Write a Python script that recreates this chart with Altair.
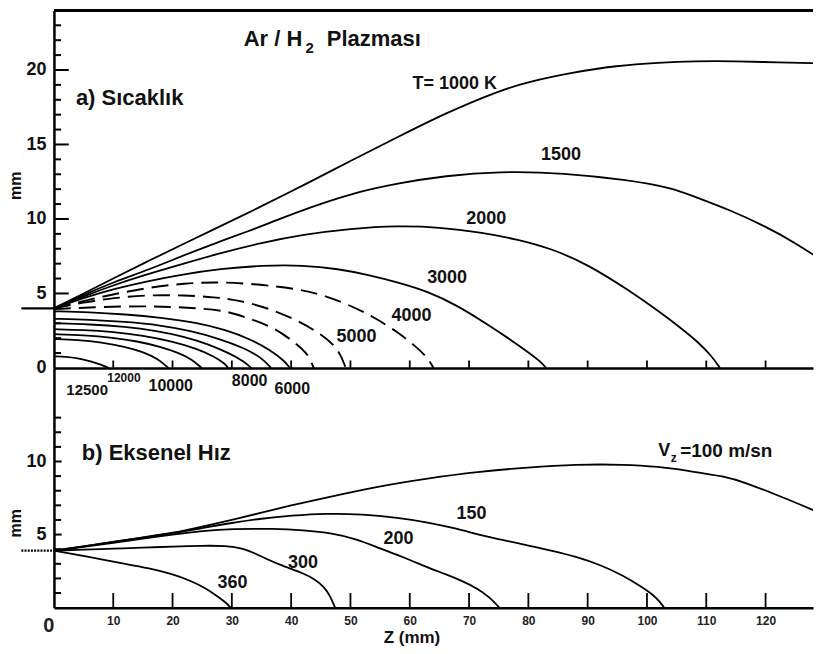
import altair as alt
import pandas as pd

FONT = "Liberation Sans"

# ---------------- panel a) temperature contours: (z mm, r mm) ----------------
t1000 = [(0, 4.0), (5, 5.0), (10, 6.0), (16, 7.2), (22, 8.35), (28, 9.5), (34, 10.65), (43, 12.45),
         (50, 13.9), (58, 15.5), (66, 17.1), (75, 18.6), (80, 19.2), (87, 19.8), (95, 20.3),
         (102, 20.5), (108, 20.6), (115, 20.6), (122, 20.5), (129, 20.45)]
t1500 = [(0, 4.0), (5, 4.9), (10, 5.75), (16, 6.6), (21.5, 7.5), (27, 8.35), (33, 9.2), (38, 10.0),
         (43, 10.75), (50, 11.7), (58, 12.4), (66, 12.9), (75, 13.2), (86, 13.1), (97, 12.6),
         (104, 12.1), (108, 11.5), (114, 10.6), (120, 9.5), (125, 8.4), (129, 7.35)]
t2000 = [(0, 4.0), (5, 4.8), (10, 5.55), (15, 6.2), (21, 6.9), (28, 7.7), (35, 8.4), (42, 8.95),
         (50, 9.35), (58, 9.55), (65, 9.45), (72, 9.1), (78, 8.65), (84, 8.0), (90, 6.95),
         (97, 5.2), (102, 3.8), (106, 2.6), (109, 1.6), (111, 0.75), (112.3, 0)]
t3000 = [(0, 4.0), (5, 4.7), (10, 5.3), (16, 5.85), (22, 6.3), (28, 6.65), (35, 6.88), (42, 6.9),
         (48, 6.65), (53, 6.25), (58, 5.75), (63, 5.15), (68, 4.2), (73, 2.95), (77, 1.9),
         (80, 1.05), (82, 0.45), (83, 0)]
t4000 = [(0, 4.0), (5, 4.5), (10, 4.95), (16, 5.4), (22, 5.68), (28, 5.78), (35, 5.6), (41, 5.3),
         (45, 4.95), (50, 4.2), (54, 3.4), (58, 2.4), (61, 1.45), (63, 0.7), (64, 0)]
t5000 = [(0, 4.0), (5, 4.4), (10, 4.7), (16, 4.9), (22, 4.88), (27, 4.75), (31, 4.55), (36, 4.05),
         (41, 3.2), (45, 2.3), (48, 1.3), (49.2, 0)]
t6000 = [(0, 3.95), (8, 4.1), (15, 4.15), (20, 4.1), (24.4, 4.0), (29, 3.85), (33, 3.3),
         (37, 2.75), (41, 1.6), (42.9, 0.9), (43.8, 0)]
t7000 = [(0, 3.8), (6, 3.75), (12, 3.6), (18, 3.38), (24, 3.05), (29, 2.55), (33, 1.95),
         (36.5, 1.2), (38.8, 0.5), (39.8, 0)]
t8000 = [(0, 3.3), (6, 3.25), (12, 3.1), (18, 2.87), (23, 2.5), (28, 1.95), (32, 1.35),
         (35, 0.7), (36.6, 0)]
t9000 = [(0, 3.0), (6, 2.93), (12, 2.77), (17, 2.52), (22, 2.1), (26, 1.6), (29.5, 1.0),
         (32, 0.45), (33.3, 0)]
t10000 = [(0, 2.6), (5, 2.55), (10, 2.42), (15, 2.18), (20, 1.78), (24, 1.3), (27, 0.78),
          (28.8, 0.3), (29.4, 0)]
t11000 = [(0, 2.27), (5, 2.2), (10, 2.03), (14, 1.8), (18, 1.42), (21, 1.02), (23.3, 0.58),
          (24.9, 0)]
t12000 = [(0, 1.94), (4, 1.88), (8, 1.72), (12, 1.43), (15, 1.08), (17.5, 0.62), (19.3, 0)]
t12500 = [(0, 0.78), (2, 0.75), (4, 0.65), (6, 0.47), (8, 0.22), (9.2, 0)]

temp_solid = {"1000": t1000, "1500": t1500, "2000": t2000, "3000": t3000, "7000": t7000,
              "8000": t8000, "9000": t9000, "10000": t10000, "11000": t11000,
              "12000": t12000, "12500": t12500}
temp_dashed = {"4000": t4000, "5000": t5000, "6000": t6000}

# ---------------- panel b) axial velocity contours ----------------
v100 = [(0, 3.9), (5, 4.2), (10, 4.5), (15, 4.8), (20, 5.1), (25, 5.55), (30, 6.0), (35, 6.5),
        (40, 7.0), (45, 7.45), (54.6, 8.3), (63, 8.85), (71.4, 9.3), (80, 9.6), (88, 9.8),
        (96, 9.8), (102, 9.65), (107, 9.35), (113, 9.0), (117, 8.5), (121, 7.85), (125, 7.2),
        (129, 6.5)]
v150 = [(0, 3.9), (5, 4.2), (10, 4.5), (15, 4.8), (20, 5.08), (25, 5.45), (30, 5.8), (35, 6.1),
        (40, 6.3), (46, 6.45), (52, 6.4), (58, 6.15), (63, 5.85), (68, 5.4), (72, 4.95),
        (76, 4.6), (80, 4.25), (84, 3.9), (88, 3.5), (92, 2.95), (96, 2.2), (99, 1.45),
        (101, 0.9), (102.3, 0.35), (102.9, 0)]
v200 = [(0, 3.9), (5, 4.15), (10, 4.42), (15, 4.72), (20, 5.0), (25, 5.25), (30, 5.4), (37, 5.4),
        (42, 5.3), (47, 5.1), (51, 4.7), (55, 4.05), (59, 3.45), (63, 2.75), (66, 2.3),
        (69, 1.8), (71.5, 1.3), (73.5, 0.7), (75.1, 0)]
v300 = [(0, 3.9), (5, 3.97), (10, 4.04), (15, 4.1), (20, 4.18), (25, 4.24), (29, 4.24),
        (32, 4.05), (34, 3.7), (36, 3.3), (38, 2.95), (40, 2.65), (42, 2.35), (44, 1.95),
        (45.5, 1.45), (46.6, 0.8), (47.4, 0)]
v360 = [(0, 3.9), (4, 3.62), (8, 3.3), (12, 3.0), (16, 2.7), (20, 2.3), (23, 1.85), (25.5, 1.35),
        (27.5, 0.8), (29, 0.35), (29.8, 0)]
velocity = {"100": v100, "150": v150, "200": v200, "300": v300, "360": v360}

# ---------------- labels ----------------
top_label_text = ["T= 1000 K", "1500", "2000", "3000", "4000", "5000",
                  "12500", "12000", "10000", "8000", "6000"]
top_label_z = [67.6, 85.5, 72.9, 66.3, 60.3, 51.0, 5.6, 11.8, 19.7, 33.0, 40.2]
top_label_r = [19.07, 14.3, 10.0, 6.03, 3.5, 2.05, -1.46, -0.66, -1.19, -0.86, -1.39]
top_label_size = [18, 18, 18, 18, 18, 18, 15, 12, 16, 16, 16]

top_head_text = ["Ar / H", "Plazması", "a) Sıcaklık"]
top_head_z = [32.0, 46.0, 3.7]
top_head_r = [22.1, 22.1, 18.1]
top_head_size = [22, 22, 22]
top_sub_text = ["2"]
top_sub_z = [43.1]
top_sub_r = [21.46]
top_sub_size = [15]

bot_label_text = ["360", "300", "200", "150", "z"]
bot_label_z = [30.1, 42.0, 58.1, 70.4, 104.5]
bot_label_r = [1.71, 3.06, 4.68, 6.44, 10.25]
bot_label_size = [18, 18, 18, 18, 12]

bot_head_text = ["b) Eksenel Hız", "V", "=100 m/sn"]
bot_head_z = [4.7, 101.9, 105.6]
bot_head_r = [10.6, 10.7, 10.7]
bot_head_size = [22, 18, 19]

# ---------------- axis ticks ----------------
top_y_major = [5, 10, 15, 20]
top_y_minor = [1, 2, 3, 4, 6, 7, 8, 9, 11, 12, 13, 14, 16, 17, 18, 19, 21, 22, 23]
bot_y_ticks = [1, 2, 3, 4, 5, 6, 7, 8, 9, 10, 11, 12, 13]
x_ticks = [10, 20, 30, 40, 50, 60, 70, 80, 90, 100, 110, 120]
x_labels = [0, 10, 20, 30, 40, 50, 60, 70, 80, 90, 100, 110, 120]

Z_MAX = 128
TOP_R = 24
BOT_R = 16.4
W = 760
H_TOP = 358
H_BOT = 240


def curve_df(curves):
    rows = []
    for name, pts in curves.items():
        for k, (z, r) in enumerate(pts):
            rows.append({"level": name, "i": k, "z": z, "r": r})
    return pd.DataFrame(rows)


def text_df(texts, zs, rs, sizes):
    return pd.DataFrame({"t": texts, "z": zs, "r": rs, "fs": sizes})


def x_enc(axis):
    return alt.X("z:Q", scale=alt.Scale(domain=[0, Z_MAX], nice=False, zero=False), axis=axis)


def y_enc(domain, axis):
    return alt.Y("r:Q", scale=alt.Scale(domain=domain, nice=False, zero=False), axis=axis)


# axes
top_x_axis = alt.Axis(labels=False, ticks=False, grid=False, title=None,
                      domainWidth=2.5, domainColor="black")
top_y_axis = alt.Axis(values=[0, 5, 10, 15, 20], ticks=False, grid=False,
                      labelFont=FONT, labelFontWeight="bold", labelFontSize=18,
                      labelColor="#111", labelPadding=8, labelFlush=False, labelOverlap=False,
                      title="mm", titleFont=FONT, titleFontWeight="bold", titleFontSize=16,
                      titleColor="#111", titleAngle=-90, titleX=-38, titleY=175,
                      titleAlign="center", titleBaseline="middle",
                      domainWidth=2.5, domainColor="black")
bot_x_axis = alt.Axis(values=x_labels, ticks=False, grid=False,
                      labelFont=FONT, labelFontWeight="bold",
                      labelFontSize={"condition": {"test": "datum.value == 0", "value": 20}, "value": 12},
                      labelAlign={"condition": {"test": "datum.value == 0", "value": "right"}, "value": "center"},
                      labelColor="#222", labelPadding=8, labelFlush=False, labelOverlap=False,
                      title="Z (mm)", titleFont=FONT, titleFontWeight="bold", titleFontSize=17,
                      titleColor="#111", titleX=358, titleY=22, titleBaseline="top",
                      domainWidth=2.5, domainColor="black")
bot_y_axis = alt.Axis(values=[5, 10], ticks=False, grid=False,
                      labelFont=FONT, labelFontWeight="bold", labelFontSize=18,
                      labelColor="#111", labelPadding=8, labelFlush=False, labelOverlap=False,
                      title="mm", titleFont=FONT, titleFontWeight="bold", titleFontSize=16,
                      titleColor="#111", titleAngle=-90, titleX=-38, titleY=155,
                      titleAlign="center", titleBaseline="middle",
                      domainWidth=2.5, domainColor="black")


def panel(solid_df, dashed_df, ydom, xaxis, yaxis, yt_df, xt_df, marker_df, marker_dash,
          labels_center, labels_left, extra=None):
    X = x_enc(xaxis)
    Y = y_enc(ydom, yaxis)
    layers = []
    layers.append(alt.Chart(solid_df).mark_line(color="black", strokeWidth=1.8, interpolate="basis",
                                                clip=True).encode(
        x=X, y=Y, detail="level:N", order="i:Q"))
    if dashed_df is not None:
        layers.append(alt.Chart(dashed_df).mark_line(color="black", strokeWidth=1.9, interpolate="basis",
                                                     strokeDash=[17, 8], clip=True).encode(
            x=X, y=Y, detail="level:N", order="i:Q"))
    layers.append(alt.Chart(yt_df).mark_rule(color="black", strokeWidth=2).encode(
        x=X, x2="z2:Q", y=Y))
    layers.append(alt.Chart(xt_df).mark_rule(color="black", strokeWidth=1.8).encode(
        x=X, y=Y, y2="r2:Q"))
    layers.append(alt.Chart(marker_df).mark_rule(color="black", strokeWidth=2.2,
                                                 strokeDash=marker_dash).encode(
        x=X, x2="z2:Q", y=Y))
    if extra is not None:
        layers.append(extra(X, Y))
    layers.append(alt.Chart(labels_center).mark_text(font=FONT, fontWeight="bold", color="#111",
                                                     align="center", baseline="middle").encode(
        x=X, y=Y, text="t:N", size=alt.Size("fs:Q", scale=None, legend=None)))
    layers.append(alt.Chart(labels_left).mark_text(font=FONT, fontWeight="bold", color="#111",
                                                   align="left", baseline="middle").encode(
        x=X, y=Y, text="t:N", size=alt.Size("fs:Q", scale=None, legend=None)))
    return alt.layer(*layers)


# top panel
top_solid = curve_df(temp_solid)
top_dashed = curve_df(temp_dashed)
top_yt = pd.DataFrame({"r": top_y_major + top_y_minor,
                       "z": [0] * (len(top_y_major) + len(top_y_minor)),
                       "z2": [2.5] * len(top_y_major) + [1.2] * len(top_y_minor)})
top_xt = pd.DataFrame({"z": x_ticks, "r": [0] * len(x_ticks), "r2": [0.5] * len(x_ticks)})
top_marker = pd.DataFrame({"z": [-5.5], "z2": [0], "r": [4.0]})
top_center = pd.concat([text_df(top_label_text, top_label_z, top_label_r, top_label_size),
                        text_df(top_sub_text, top_sub_z, top_sub_r, top_sub_size)])
top_left = text_df(top_head_text, top_head_z, top_head_r, top_head_size)


def top_border(X, Y):
    return alt.Chart(pd.DataFrame({"z": [0], "z2": [Z_MAX], "r": [TOP_R]})).mark_rule(
        color="black", strokeWidth=3).encode(x=X, x2="z2:Q", y=Y)


top = panel(top_solid, top_dashed, [0, TOP_R], top_x_axis, top_y_axis, top_yt, top_xt,
            top_marker, [30, 0], top_center, top_left, extra=top_border).properties(
    width=W, height=H_TOP)

# bottom panel
bot_solid = curve_df(velocity)
bot_yt = pd.DataFrame({"r": bot_y_ticks, "z": [0] * len(bot_y_ticks),
                       "z2": [1.3 if t in (5, 10) else 1.2 for t in bot_y_ticks]})
bot_xt = pd.DataFrame({"z": x_ticks, "r": [0] * len(x_ticks), "r2": [1.0] * len(x_ticks)})
bot_marker = pd.DataFrame({"z": [-5.5], "z2": [0], "r": [3.9]})
bot_center = text_df(bot_label_text, bot_label_z, bot_label_r, bot_label_size)
bot_left = text_df(bot_head_text, bot_head_z, bot_head_r, bot_head_size)

bottom = panel(bot_solid, None, [0, BOT_R], bot_x_axis, bot_y_axis, bot_yt, bot_xt,
               bot_marker, [2, 1.2], bot_center, bot_left).properties(width=W, height=H_BOT)

chart = alt.vconcat(top, bottom, spacing=0, bounds="flush").properties(
    padding=0, background="white"
).configure_view(stroke=None)

chart.save("out.html", embed_options={"renderer": "svg", "actions": False})
